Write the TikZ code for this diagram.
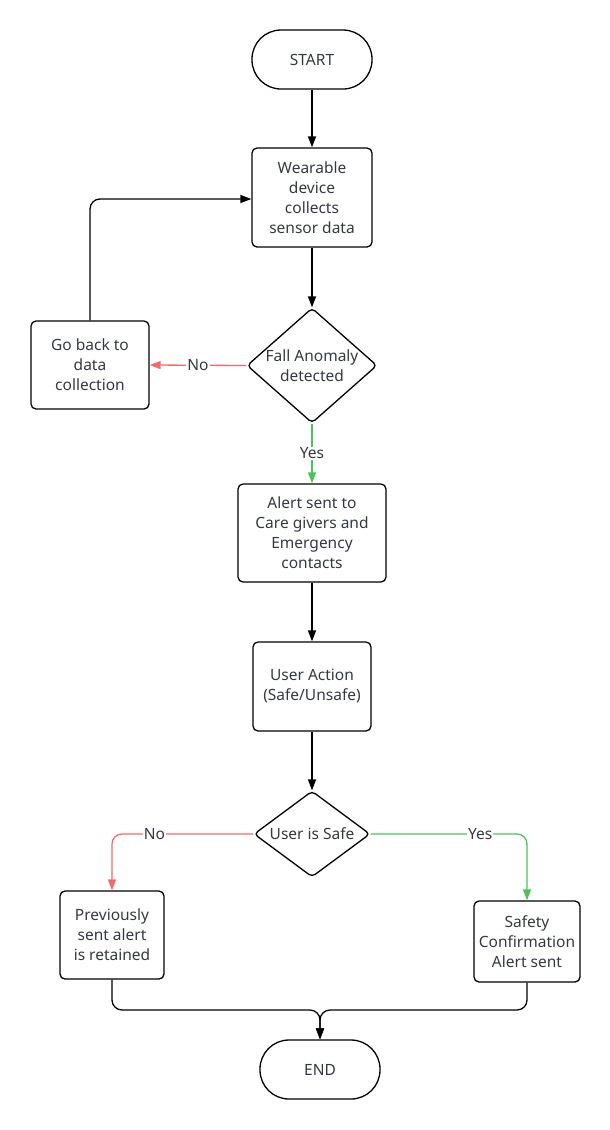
\documentclass[tikz,border=0pt]{standalone}
\usepackage{fontspec}
\setmainfont{Noto Sans}
\usetikzlibrary{arrows.meta,shapes.geometric}
\definecolor{txt}{RGB}{52,56,66}
\definecolor{nored}{RGB}{245,105,105}
\definecolor{yesgreen}{RGB}{76,195,90}
\tikzset{
  base/.style={draw=black, line width=1.3pt, text=txt, align=center, font=\fontsize{15.5}{20}\selectfont, inner sep=0pt},
  procbox/.style={base, rectangle, rounded corners=5pt},
  term/.style={base, rectangle, rounded corners=29pt, minimum width=120pt, minimum height=59pt},
  decide/.style={base, diamond, rounded corners=4pt},
  conn/.style={line width=1.3pt, -{Triangle[length=11pt,width=8pt]}},
  lbl/.style={fill=white, text=txt, font=\fontsize{15.5}{18}\selectfont, inner sep=1pt},
}
\begin{document}
\begin{tikzpicture}[x=1pt,y=-1pt]
\useasboundingbox (0,0) rectangle (610,1130);
\node[term] (start) at (312,59.5) {START};
\node[procbox, minimum width=120pt, minimum height=99pt] (wear) at (312,197.5) {Wearable\\device\\collects\\sensor data};
\node[decide, minimum width=130pt, minimum height=115pt, label={[text=txt,font=\fontsize{15.5}{20}\selectfont,align=center]center:Fall Anomaly\\detected}] (fall) at (312,365.5) {};
\node[procbox, minimum width=118pt, minimum height=88pt] (back) at (90,365) {Go back to\\data\\collection};
\node[procbox, minimum width=148pt, minimum height=98pt] (alert) at (312,533) {Alert sent to\\Care givers and\\Emergency\\contacts};
\node[procbox, minimum width=118pt, minimum height=89pt] (action) at (312,686.5) {User Action\\(Safe/Unsafe)};
\node[decide, minimum width=116pt, minimum height=86pt, label={[text=txt,font=\fontsize{15.5}{20}\selectfont]center:User is Safe}] (safe) at (312,834) {};
\node[procbox, minimum width=104pt, minimum height=88pt] (prev) at (112,935) {Previously\\sent alert\\is retained};
\node[procbox, minimum width=106pt, minimum height=81pt] (conf) at (527,941.5) {Safety\\Confirmation\\Alert sent};
\node[term] (end) at (320,1069.5) {END};
\coordinate (loop) at (90,199);
\coordinate (merge) at (320,1010);

\draw[conn] (start) -- (wear);
\draw[conn] (wear) -- (fall);
\draw[conn, nored] (fall.west) -- node[lbl, pos=0.5]{No} (back.east);
\draw[conn, rounded corners=10pt] (back.north) -- (loop) -- (wear.west |- loop);
\draw[conn, yesgreen] (fall.south) -- node[lbl, pos=0.5]{Yes} (alert.north);
\draw[conn] (alert) -- (action);
\draw[conn] (action) -- (safe);
\draw[conn, nored, rounded corners=10pt] (safe.west) -- node[lbl, pos=0.7]{No} (prev.north |- safe.west) -- (prev.north);
\draw[conn, yesgreen, rounded corners=10pt] (safe.east) -- node[lbl, pos=0.7]{Yes} (conf.north |- safe.east) -- (conf.north);
\draw[conn, rounded corners=10pt] (prev.south) |- (merge) -- (end.north);
\draw[conn, rounded corners=10pt] (conf.south) |- (merge) -- (end.north);
\end{tikzpicture}
\end{document}
